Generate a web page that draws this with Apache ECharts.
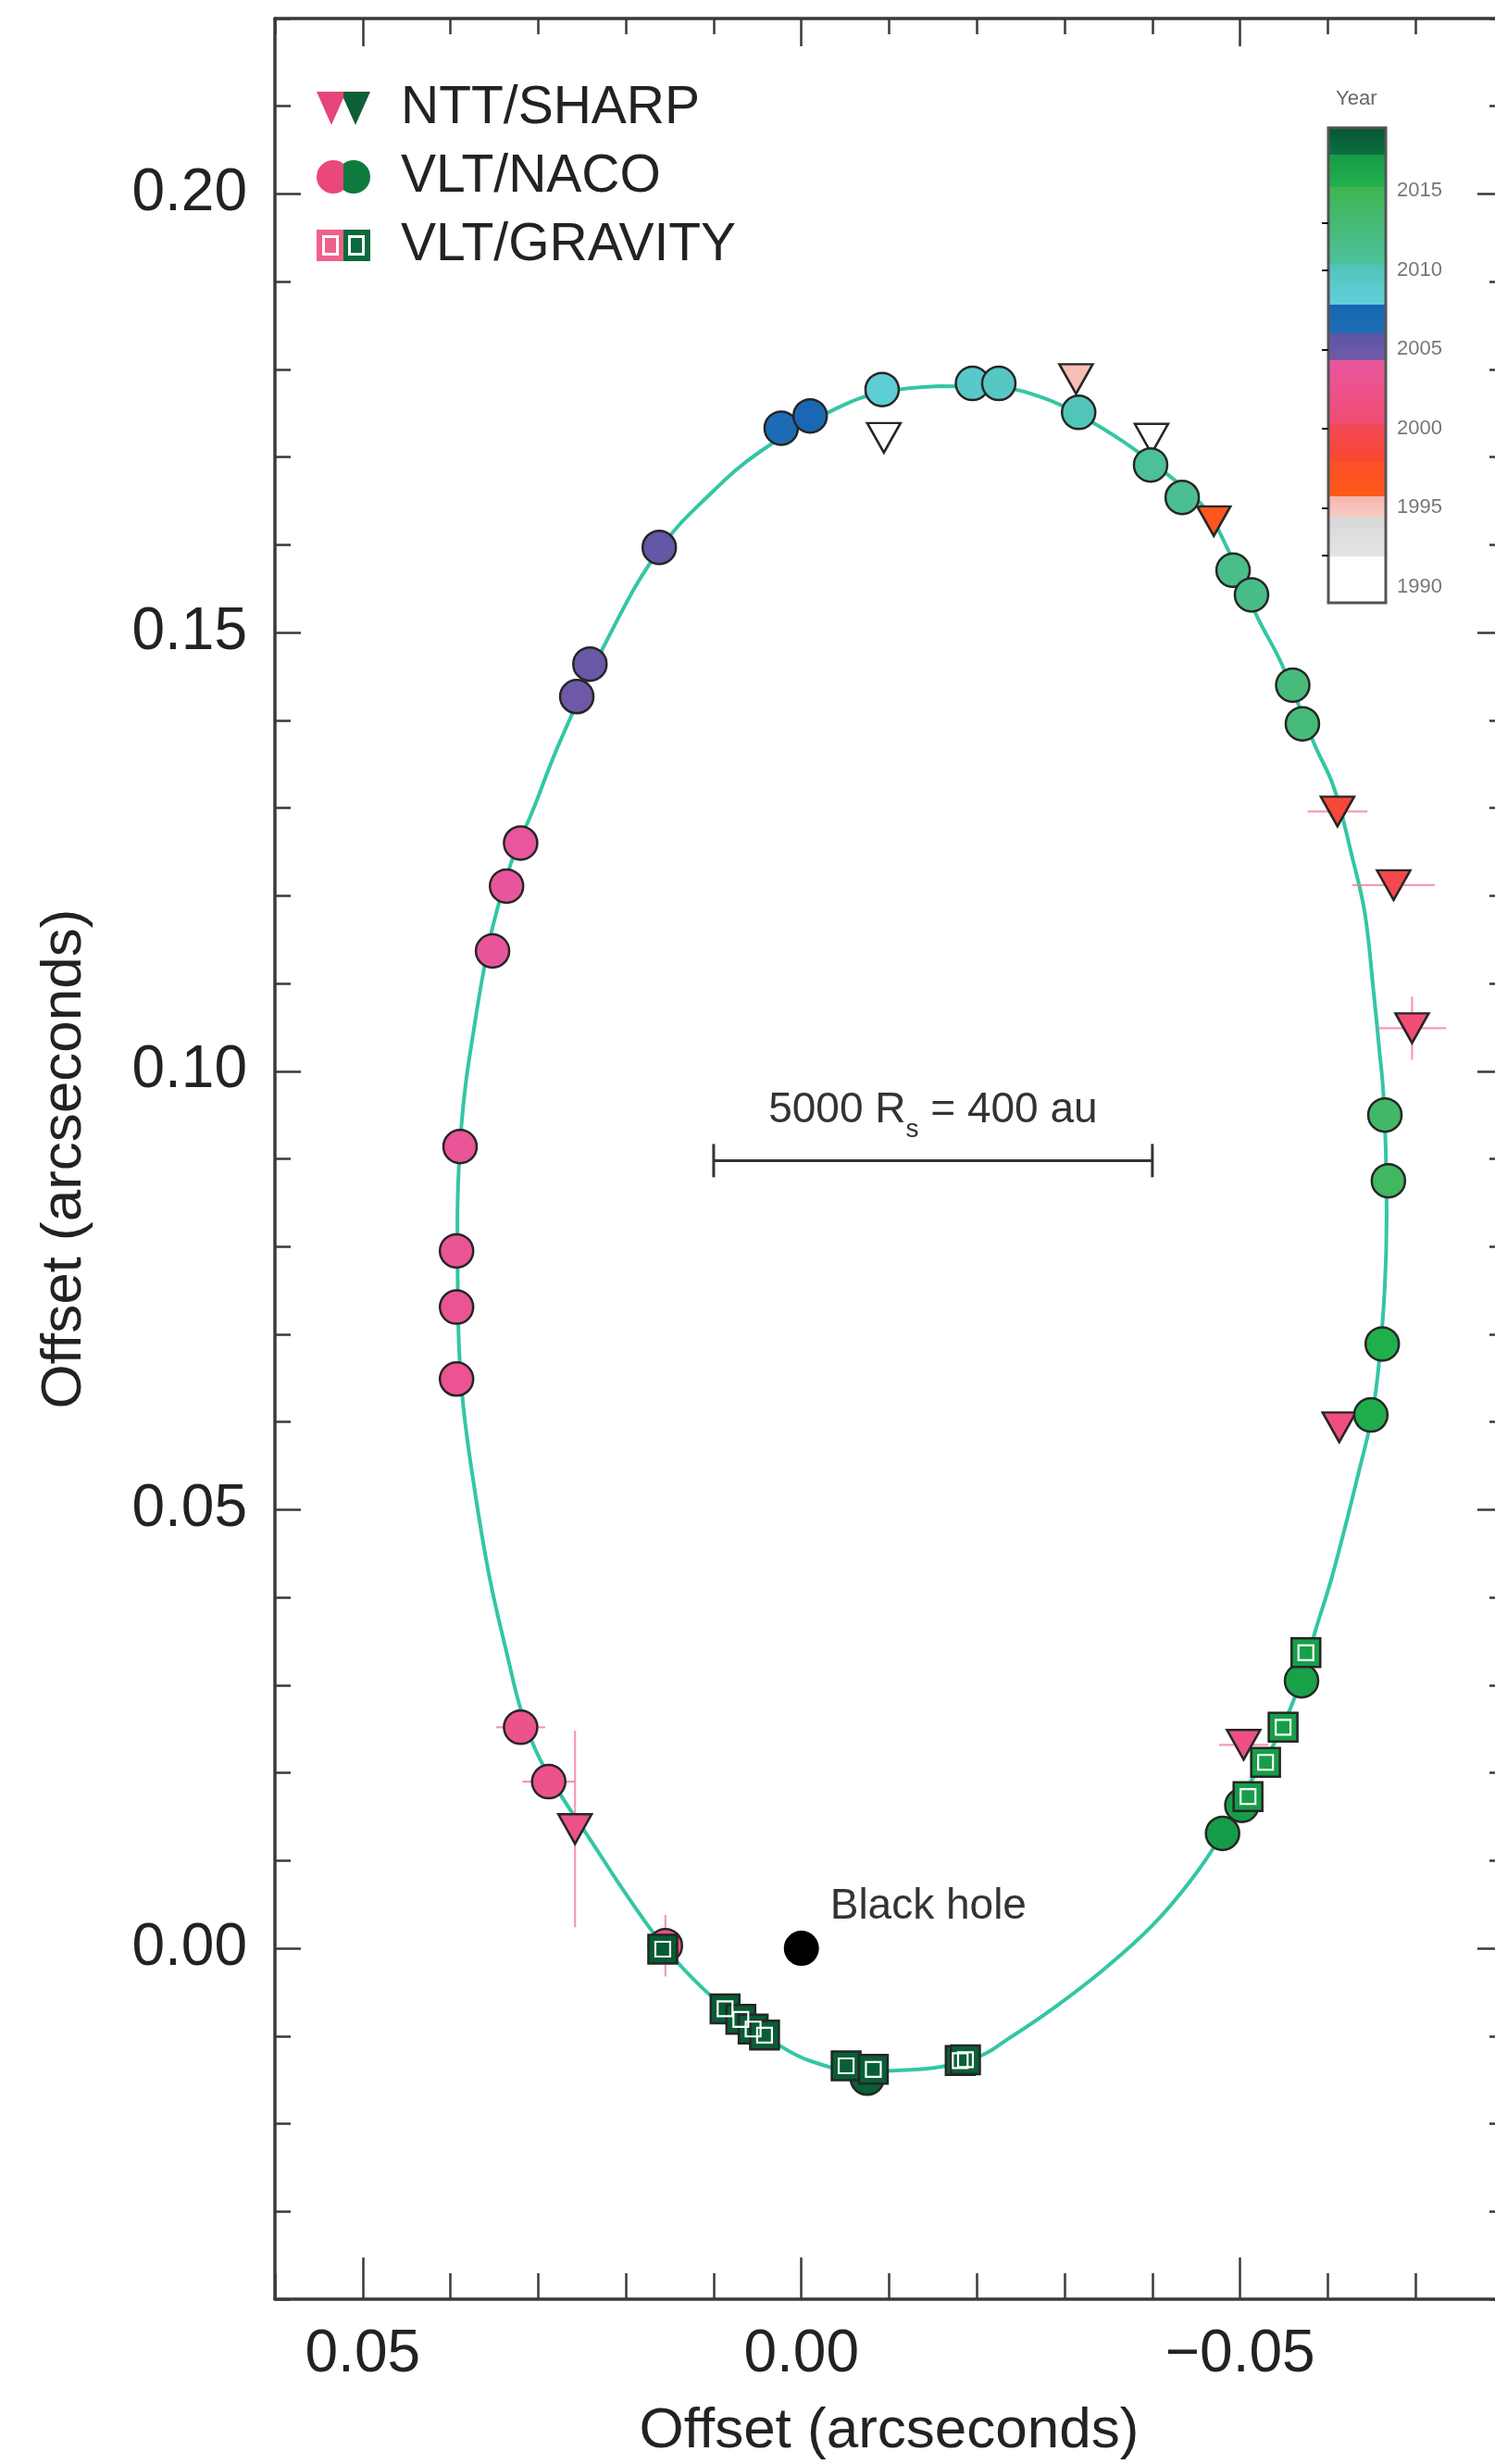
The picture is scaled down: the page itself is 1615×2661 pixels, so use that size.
<!DOCTYPE html>
<html lang="en">
<head>
<meta charset="UTF-8">
<title>S2 orbit around the black hole</title>
<script src="https://cdn.jsdelivr.net/npm/echarts@6/dist/echarts.min.js"></script>
<style>
    html, body { margin: 0; padding: 0; background: #fff; }
    #chart { width: 1615px; height: 2661px; }
</style>
</head>
<body>
<div id="chart"></div>
<script>
    // ---- data (arcseconds) ----
    const sharpX = [-0.0094, -0.0313, -0.0399, -0.0470, -0.0611, -0.0675, -0.0696, -0.0613, -0.0504, 0.0258];
    const sharpY = [0.1722, 0.1789, 0.1721, 0.1627, 0.1296, 0.1212, 0.1049, 0.0594, 0.0232, 0.0136];
    const sharpYear = [1991.4, 1995.2, 1991.8, 1996.5, 1998.5, 1999.5, 2000.5, 2001.5, 2002.0, 2002.4];

    const nacoX = [0.0155, 0.0288, 0.0320, 0.0393, 0.0393, 0.0393, 0.0389, 0.0352, 0.0336, 0.0320,
        0.0256, 0.0241, 0.0162, 0.0023, -0.0010, -0.0092, -0.0195, -0.0225, -0.0316, -0.0398,
        -0.0434, -0.0492, -0.0513, -0.0560, -0.0571, -0.0665, -0.0669, -0.0662, -0.0649, -0.0570,
        -0.0502, -0.0480, -0.0075];
    const nacoY = [0.0003, 0.0190, 0.0252, 0.0649, 0.0731, 0.0795, 0.0914, 0.1137, 0.1211, 0.1260,
        0.1427, 0.1464, 0.1597, 0.1733, 0.1747, 0.1777, 0.1784, 0.1784, 0.1751, 0.1691,
        0.1654, 0.1571, 0.1543, 0.1440, 0.1396, 0.0950, 0.0875, 0.0689, 0.0608, 0.0305,
        0.0163, 0.0131, -0.0148];
    const nacoYear = [2002.3, 2002.5, 2002.7, 2003.2, 2003.4, 2003.5, 2003.7, 2004.0, 2004.1, 2004.2,
        2004.6, 2005.0, 2005.5, 2006.4, 2007.2, 2008.3, 2009.2, 2009.5, 2010.2, 2010.6,
        2011.0, 2011.5, 2011.8, 2012.4, 2012.7, 2013.8, 2014.2, 2015.3, 2015.6, 2016.7,
        2017.1, 2017.15, 2018.3];

    const gravityX = [-0.0575, -0.0549, -0.0529, -0.0509, 0.0158, 0.0087, 0.0069, 0.0055, 0.0042,
        -0.0051, -0.0082, -0.0181, -0.0187];
    const gravityY = [0.0337, 0.0252, 0.0212, 0.0173, -0.0001, -0.0069, -0.0081, -0.0092, -0.0099,
        -0.0134, -0.0138, -0.0128, -0.0127];
    const gravityYear = [2016.9, 2017.0, 2017.05, 2017.1, 2018.6, 2018.5, 2018.5, 2018.45, 2018.45,
        2018.35, 2018.35, 2018.3, 2018.3];

    // error bars: centre, half-width in x, half-height in y
    const errX = [-0.0470, -0.0611, -0.0675, -0.0696, -0.0504, 0.0258, 0.0320, 0.0288, 0.0155];
    const errY = [0.1627, 0.1296, 0.1212, 0.1049, 0.0232, 0.0136, 0.0252, 0.0190, 0.0003];
    const errDX = [0.0006, 0.0034, 0.0047, 0.0039, 0.0028, 0.0010, 0.0028, 0.0030, 0.0008];
    const errDY = [0.0016, 0.0012, 0.0008, 0.0036, 0.0006, 0.0112, 0.0010, 0.0010, 0.0035];

    // fitted orbit
    const orbitX = [-0.0158, -0.0228, -0.0277, -0.0319, -0.0368, -0.0410, -0.0458, -0.0483, -0.0519, -0.0547,
        -0.0585, -0.0607, -0.0628, -0.0642, -0.0652, -0.0659, -0.0663, -0.0666, -0.0667, -0.0665,
        -0.0659, -0.0651, -0.0636, -0.0606, -0.0587, -0.0565, -0.0534, -0.0503, -0.0480, -0.0445,
        -0.0400, -0.0347, -0.0289, -0.0236, -0.0201, -0.0134, -0.0067, -0.0009, 0.0031, 0.0071,
        0.0111, 0.0155, 0.0200, 0.0240, 0.0275, 0.0302, 0.0320, 0.0334, 0.0356, 0.0375,
        0.0386, 0.0391, 0.0392, 0.0389, 0.0383, 0.0374, 0.0364, 0.0352, 0.0329, 0.0307,
        0.0275, 0.0212, 0.0160, 0.0108, 0.0046, -0.0041, -0.0092, -0.0158];
    const orbitY = [0.1781, 0.1779, 0.1767, 0.1747, 0.1717, 0.1686, 0.1644, 0.1601, 0.1519, 0.1465,
        0.1372, 0.1323, 0.1243, 0.1181, 0.1092, 0.1021, 0.0979, 0.0910, 0.0837, 0.0756,
        0.0675, 0.0611, 0.0546, 0.0428, 0.0366, 0.0293, 0.0224, 0.0176, 0.0131, 0.0079,
        0.0026, -0.0022, -0.0067, -0.0103, -0.0124, -0.0138, -0.0140, -0.0128, -0.0107, -0.0079,
        -0.0047, 0.0000, 0.0062, 0.0123, 0.0176, 0.0224, 0.0273, 0.0329, 0.0426, 0.0540,
        0.0625, 0.0710, 0.0831, 0.0916, 0.0982, 0.1043, 0.1104, 0.1164, 0.1243, 0.1295,
        0.1376, 0.1510, 0.1597, 0.1654, 0.1707, 0.1756, 0.1774, 0.1781];

    const holeX = [0];
    const holeY = [0];
    const scaleBarX = [0.01, -0.04];
    const scaleBarY = [0.0898];

    // year colour scale (segments with start / end colours)
    const cmapStart = [1989, 1992, 1994.5, 1995.8, 1998, 2000.3, 2004.3, 2006, 2007.8, 2010.3, 2015.2, 2017.2];
    const cmapEnd = [1992, 1994.5, 1995.8, 1998, 2000.3, 2004.3, 2006, 2007.8, 2010.3, 2015.2, 2017.2, 2019];
    const cmapLow = ['#ffffff', '#e4e4e4', '#f8cbc4', '#ff5a1a', '#f8472f', '#f24c72', '#705aa8', '#1f6db5', '#62cfdb', '#4dc19c', '#22b04c', '#0b7040'];
    const cmapHigh = ['#ffffff', '#d8d8d8', '#f4b6ae', '#fc4f27', '#f3485a', '#e8569e', '#5d56a5', '#1766b2', '#50c5b9', '#3eb452', '#169c48', '#075530'];
    const barYears = [1990, 1995, 2000, 2005, 2010, 2015];
    const barTicks = [1992, 1995, 2000, 2005, 2010, 2013];

    const xMajor = [-0.05, 0, 0.05];
    const yMajor = [0, 0.05, 0.10, 0.15, 0.20];

    // ---- helpers ----
    const fontFamily = "'Liberation Sans', Arial, sans-serif";
    const textColor = '#222';
    const axisColor = '#3a3a3a';
    const edge = '#262626';

    function hexToRgb(h) {
        const n = parseInt(h.slice(1), 16);
        return [(n >> 16) & 255, (n >> 8) & 255, n & 255];
    }

    function colorForYear(yr) {
        let i = cmapStart.findIndex((s, k) => yr >= s && yr < cmapEnd[k]);
        if (i < 0) i = yr < cmapStart[0] ? 0 : cmapStart.length - 1;
        const t = Math.min(1, Math.max(0, (yr - cmapStart[i]) / (cmapEnd[i] - cmapStart[i])));
        const a = hexToRgb(cmapLow[i]), b = hexToRgb(cmapHigh[i]);
        return 'rgb(' + a.map((v, k) => Math.round(v + (b[k] - v) * t)).join(',') + ')';
    }

    function points(xs, ys, years) {
        return xs.map((x, i) => ({value: [x, ys[i]], itemStyle: {color: colorForYear(years[i])}}));
    }

    function fmt(v) {
        if (Math.abs(v) < 1e-9) return '0.00';
        return v < 0 ? '\u2212' + (-v).toFixed(2) : v.toFixed(2);
    }

    function split(c1, c2) {
        return {
            type: 'linear', x: 0, y: 0, x2: 1, y2: 0,
            colorStops: [{offset: 0, color: c1}, {offset: 0.5, color: c1},
                {offset: 0.5, color: c2}, {offset: 1, color: c2}]
        };
    }

    const barMin = 1989, barMax = 2019;
    const barStops = [];
    cmapStart.forEach((s, i) => {
        barStops.push({offset: (s - barMin) / (barMax - barMin), color: cmapLow[i]});
        barStops.push({offset: (cmapEnd[i] - barMin) / (barMax - barMin), color: cmapHigh[i]});
    });

    function tickAxis(base, pos, len, custom, line) {
        const ax = Object.assign({
            type: 'value', gridIndex: 0, position: pos,
            axisLine: {show: !!line, onZero: false, lineStyle: {color: axisColor, width: 3.5}},
            axisTick: {show: true, inside: true, length: len, lineStyle: {color: axisColor, width: 2.5}},
            axisLabel: {show: false},
            splitLine: {show: false}
        }, base);
        if (custom) ax.axisTick.customValues = custom;
        else ax.interval = 0.01;
        return ax;
    }

    const xBase = {min: -0.08, max: 0.06, inverse: true};
    const yBase = {min: -0.04, max: 0.22};

    const xMain = tickAxis(xBase, 'bottom', 45, xMajor, true);
    xMain.axisLabel = {show: true, customValues: xMajor, formatter: fmt, fontSize: 64, color: textColor, margin: 28, fontFamily};
    xMain.name = 'Offset (arcseconds)';
    xMain.nameLocation = 'middle';
    xMain.nameGap = 112;
    xMain.nameTextStyle = {fontSize: 62, color: textColor, fontFamily};

    const yMain = tickAxis(yBase, 'left', 28, yMajor, true);
    yMain.axisLabel = {show: true, customValues: yMajor, formatter: fmt, fontSize: 64, color: textColor, margin: 30, fontFamily};
    yMain.name = 'Offset (arcseconds)';
    yMain.nameLocation = 'middle';
    yMain.nameGap = 196;
    yMain.nameTextStyle = {fontSize: 62, color: textColor, fontFamily};

    const triPath = 'path://M0,0L32,0L16,36ZM26,0L58,0L42,36Z';
    const dotPath = 'path://M0,18A18,18,0,1,1,36,18A18,18,0,1,1,0,18ZM22,18A18,18,0,1,1,58,18A18,18,0,1,1,22,18Z';
    const boxPath = 'path://M0,0L30,0L30,34L0,34ZM6,6L6,28L24,28L24,6ZM9,9L21,9L21,25L9,25Z' +
        'M28,0L58,0L58,34L28,34ZM34,6L34,28L52,28L52,6ZM37,9L49,9L49,25L37,25Z';

    const chart = echarts.init(document.getElementById('chart'));

    chart.setOption({
        animation: false,
        backgroundColor: '#fff',
        textStyle: {fontFamily},
        title: {
            text: 'Year', left: 1443, top: 96, padding: 0,
            textStyle: {fontSize: 22, fontWeight: 'normal', color: '#666', fontFamily}
        },
        legend: {
            orient: 'vertical', left: 342, top: 87, padding: 0, itemGap: 14,
            itemWidth: 58, itemHeight: 36,
            textStyle: {fontSize: 57, color: textColor, lineHeight: 60, padding: [0, 0, 0, 28], fontFamily},
            data: [
                {name: 'NTT/SHARP', icon: triPath, itemStyle: {color: split('#e6457a', '#0e5e36'), borderWidth: 0}},
                {name: 'VLT/NACO', icon: dotPath, itemStyle: {color: split('#e94878', '#0f7a3e'), borderWidth: 0}},
                {name: 'VLT/GRAVITY', icon: boxPath, itemStyle: {color: split('#f0608a', '#0b6a3c'), borderWidth: 0}}
            ]
        },
        grid: [
            {left: 297, top: 20, width: 1327, height: 2463, outerBoundsMode: 'none'},
            {
                left: 1435, top: 138, width: 62, height: 513, outerBoundsMode: 'none',
                show: true, borderColor: '#555', borderWidth: 3,
                backgroundColor: {type: 'linear', x: 0, y: 1, x2: 0, y2: 0, colorStops: barStops}
            }
        ],
        xAxis: [
            xMain,
            tickAxis(xBase, 'bottom', 28, null, false),
            tickAxis(xBase, 'top', 17, null, true),
            tickAxis(xBase, 'top', 30, xMajor, false),
            {type: 'value', gridIndex: 1, show: false, min: 0, max: 1}
        ],
        yAxis: [
            yMain,
            tickAxis(yBase, 'left', 17, null, false),
            tickAxis(yBase, 'right', 15, null, true),
            tickAxis(yBase, 'right', 28, yMajor, false),
            {
                type: 'value', gridIndex: 1, position: 'right', min: barMin, max: barMax,
                axisLine: {show: false},
                splitLine: {show: false},
                axisTick: {show: true, inside: true, length: 7, customValues: barTicks, lineStyle: {color: '#111', width: 2}},
                axisLabel: {
                    show: true, customValues: barYears, fontSize: 22, color: '#777', margin: 12, fontFamily,
                    formatter: v => String(Math.round(v))
                }
            }
        ],
        series: [
            {
                name: 'orbit', type: 'line', xAxisIndex: 0, yAxisIndex: 0,
                data: orbitX.map((x, i) => [x, orbitY[i]]),
                smooth: 0.4, symbol: 'none', silent: true, z: 2,
                lineStyle: {color: '#33c6a5', width: 4}
            },
            {
                name: 'errors', type: 'custom', xAxisIndex: 0, yAxisIndex: 0, silent: true, z: 3,
                data: errX.map((x, i) => [x, errY[i], errDX[i], errDY[i]]),
                renderItem: function (params, api) {
                    const x = api.value(0), y = api.value(1), dx = api.value(2), dy = api.value(3);
                    const l = api.coord([x - dx, y]), r = api.coord([x + dx, y]);
                    const b = api.coord([x, y - dy]), t = api.coord([x, y + dy]);
                    const st = {stroke: 'rgba(240,120,155,0.75)', lineWidth: 2.2};
                    return {
                        type: 'group', children: [
                            {type: 'line', shape: {x1: l[0], y1: l[1], x2: r[0], y2: r[1]}, style: st},
                            {type: 'line', shape: {x1: b[0], y1: b[1], x2: t[0], y2: t[1]}, style: st}
                        ]
                    };
                }
            },
            {
                name: 'NTT/SHARP', type: 'scatter', xAxisIndex: 0, yAxisIndex: 0, z: 4,
                symbol: 'triangle', symbolRotate: 180, symbolSize: [36, 32],
                itemStyle: {borderColor: edge, borderWidth: 2.5, opacity: 1},
                data: points(sharpX, sharpY, sharpYear)
            },
            {
                name: 'VLT/NACO', type: 'scatter', xAxisIndex: 0, yAxisIndex: 0, z: 5,
                symbol: 'circle', symbolSize: 36,
                itemStyle: {borderColor: edge, borderWidth: 2.5, opacity: 1},
                data: points(nacoX, nacoY, nacoYear)
            },
            {
                name: 'VLT/GRAVITY', type: 'scatter', xAxisIndex: 0, yAxisIndex: 0, z: 6,
                symbol: 'rect', symbolSize: 31,
                itemStyle: {borderColor: edge, borderWidth: 2.5, opacity: 1},
                data: points(gravityX, gravityY, gravityYear)
            },
            {
                name: 'gravity-inner', type: 'scatter', xAxisIndex: 0, yAxisIndex: 0, z: 6, silent: true,
                symbol: 'rect', symbolSize: 16,
                itemStyle: {color: 'transparent', borderColor: '#fff', borderWidth: 2.2, opacity: 1},
                data: gravityX.map((x, i) => [x, gravityY[i]])
            },
            {
                name: 'Black hole', type: 'scatter', xAxisIndex: 0, yAxisIndex: 0, z: 7,
                symbol: 'circle', symbolSize: 38,
                itemStyle: {color: '#000', opacity: 1},
                label: {
                    show: true, position: 'right', distance: 12, offset: [0, -45],
                    formatter: 'Black hole', fontSize: 46, color: '#333', fontFamily
                },
                data: holeX.map((x, i) => [x, holeY[i]])
            },
            {
                name: 'scale', type: 'custom', xAxisIndex: 0, yAxisIndex: 0, silent: true, z: 3,
                data: [[scaleBarX[0], scaleBarX[1], scaleBarY[0]]],
                encode: {x: [0, 1], y: 2},
                renderItem: function (params, api) {
                    const a = api.coord([api.value(0), api.value(2)]);
                    const b = api.coord([api.value(1), api.value(2)]);
                    const st = {stroke: '#333', lineWidth: 3};
                    return {
                        type: 'group', children: [
                            {type: 'line', shape: {x1: a[0], y1: a[1], x2: b[0], y2: b[1]}, style: st},
                            {type: 'line', shape: {x1: a[0], y1: a[1] - 18, x2: a[0], y2: a[1] + 18}, style: st},
                            {type: 'line', shape: {x1: b[0], y1: b[1] - 18, x2: b[0], y2: b[1] + 18}, style: st},
                            {
                                type: 'text', x: (a[0] + b[0]) / 2, y: a[1] - 19,
                                style: {
                                    text: '{m|5000 R}{s|s}{m| = 400 au}',
                                    align: 'center', verticalAlign: 'bottom', fill: '#333',
                                    rich: {
                                        m: {fontSize: 46, lineHeight: 70, fontFamily, fill: '#333'},
                                        s: {fontSize: 28, lineHeight: 70, verticalAlign: 'bottom', fontFamily, fill: '#333'}
                                    }
                                }
                            }
                        ]
                    };
                }
            }
        ]
    });
</script>
</body>
</html>
